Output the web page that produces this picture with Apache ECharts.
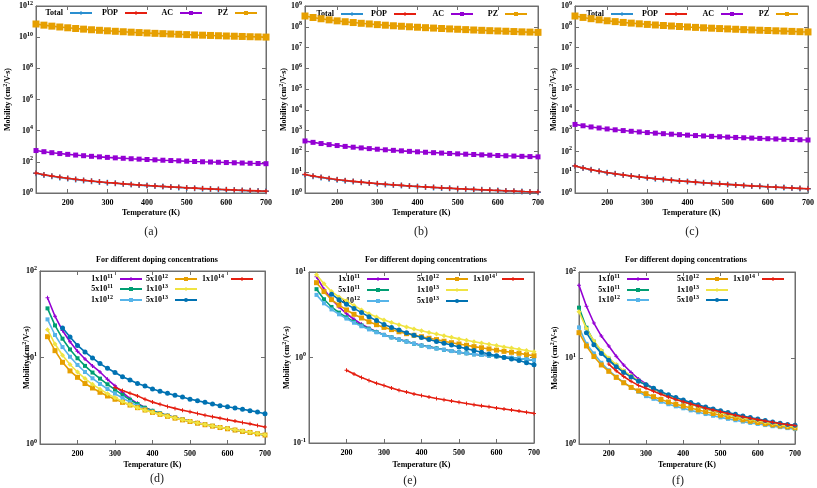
<!DOCTYPE html>
<html><head><meta charset="utf-8">
<script src="https://cdn.jsdelivr.net/npm/echarts@6/dist/echarts.min.js"></script>
<style>html,body{margin:0;padding:0;background:#fff}#c{width:817px;height:488px}</style>
</head><body><div id="c"></div>
<script>
// ---------- data ----------
const temps = [120,140,160,180,200,220,240,260,280,300,320,340,360,380,400,420,440,460,480,500,520,540,560,580,600,620,640,660,680,700];
const xTickLabels = [200,300,400,500,600,700];

// (a)
const a_total = [18.3,14.5,11.9,10.0,8.5,7.35,6.45,5.72,5.1,4.6,4.18,3.81,3.49,3.22,2.98,2.77,2.59,2.42,2.27,2.13,2.01,1.9,1.8,1.7,1.62,1.54,1.47,1.4,1.34,1.28];
const a_pop = [19,15.0,12.3,10.3,8.74,7.56,6.63,5.87,5.24,4.71,4.28,3.90,3.57,3.29,3.04,2.83,2.64,2.47,2.32,2.17,2.05,1.94,1.83,1.73,1.65,1.57,1.49,1.43,1.36,1.30];
const a_ac = [530,447,386,339,302,272,247,226,209,193,180,169,158,149,141,134,127,121,116,110,105,101,97.5,94,90,87,84,81,78.5,76];
const a_pz = [7.0e10,5.9e10,5.1e10,4.5e10,4.0e10,3.6e10,3.27e10,2.99e10,2.76e10,2.56e10,2.38e10,2.23e10,2.09e10,1.97e10,1.86e10,1.76e10,1.68e10,1.60e10,1.53e10,1.46e10,1.39e10,1.34e10,1.29e10,1.24e10,1.19e10,1.15e10,1.11e10,1.07e10,1.04e10,1.01e10];
// (b)
const b_total = [7.6,6.42,5.56,4.88,4.36,3.92,3.57,3.27,3.01,2.8,2.6,2.44,2.29,2.15,2.04,1.94,1.84,1.75,1.67,1.6,1.53,1.47,1.42,1.36,1.31,1.26,1.22,1.17,1.13,1.1];
const b_pop = [7.8,6.58,5.69,4.99,4.45,4.0,3.64,3.33,3.07,2.85,2.65,2.48,2.33,2.19,2.07,1.97,1.87,1.78,1.70,1.62,1.55,1.49,1.44,1.38,1.33,1.28,1.24,1.19,1.15,1.12];
const b_ac = [320,274,240,213,192,175,160,148,137,128,120,113,107,101,96,91.4,87.3,83.5,80,76.8,73.8,71.1,68.6,66.2,64,61.9,60,58.2,56.5,54.9];
const b_pz = [3.3e8,2.8e8,2.43e8,2.15e8,1.93e8,1.75e8,1.6e8,1.47e8,1.37e8,1.27e8,1.19e8,1.12e8,1.06e8,1.0e8,9.5e7,9.05e7,8.65e7,8.25e7,7.9e7,7.6e7,7.3e7,7.0e7,6.75e7,6.5e7,6.3e7,6.1e7,5.9e7,5.7e7,5.55e7,5.4e7];
// (c)
const c_total = [19.8,15.9,13.2,11.1,9.56,8.34,7.37,6.58,5.93,5.37,4.9,4.5,4.14,3.83,3.57,3.33,3.11,2.91,2.75,2.59,2.45,2.31,2.19,2.09,1.99,1.9,1.82,1.74,1.66,1.6];
const c_pop = [20,16.0,13.3,11.2,9.64,8.4,7.42,6.62,5.96,5.4,4.92,4.52,4.16,3.84,3.58,3.34,3.12,2.92,2.76,2.6,2.46,2.32,2.2,2.1,2.0,1.91,1.83,1.75,1.67,1.61];
const c_ac = [2000,1720,1510,1345,1210,1100,1010,934,868,810,760,716,677,642,610,582,556,532,510,490,472,455,439,424,410,398,386,374,364,355];
const c_pz = [3.3e8,2.82e8,2.45e8,2.17e8,1.95e8,1.77e8,1.62e8,1.5e8,1.39e8,1.3e8,1.22e8,1.15e8,1.09e8,1.03e8,9.8e7,9.35e7,8.95e7,8.55e7,8.2e7,7.9e7,7.6e7,7.3e7,7.05e7,6.8e7,6.6e7,6.4e7,6.2e7,6.0e7,5.8e7,5.65e7];

// (d)
const d_1e11 = [49,30,20.5,15.2,11.8,9.6,8.0,6.8,5.6,4.7,3.95,3.35,2.95,2.65,2.42,2.26,2.13,2.02,1.92,1.84,1.76,1.69,1.62,1.56,1.51,1.46,1.41,1.37,1.32,1.28];
const d_5e11 = [37,23.5,16.5,12.4,9.8,8.0,6.7,5.7,4.9,4.25,3.7,3.25,2.9,2.62,2.42,2.26,2.13,2.02,1.92,1.83,1.75,1.68,1.62,1.56,1.5,1.45,1.4,1.36,1.31,1.27];
const d_1e12 = [27.6,18.2,13.2,10.2,8.2,6.8,5.75,4.95,4.32,3.82,3.4,3.05,2.77,2.55,2.37,2.22,2.1,2.0,1.9,1.82,1.74,1.67,1.61,1.55,1.5,1.45,1.4,1.36,1.31,1.27];
const d_5e12 = [17.4,12.0,8.8,7.0,5.9,5.0,4.44,3.96,3.59,3.29,3.03,2.82,2.63,2.47,2.32,2.2,2.09,1.99,1.9,1.82,1.74,1.67,1.61,1.55,1.5,1.45,1.4,1.36,1.31,1.27];
const d_1e13 = [21,14.3,10.6,8.3,6.8,5.7,4.9,4.3,3.82,3.43,3.1,2.85,2.63,2.46,2.33,2.21,2.1,2.0,1.91,1.83,1.75,1.68,1.62,1.56,1.51,1.46,1.41,1.37,1.32,1.28];
const d_5e13 = [null,null,22,17.3,13.8,11.6,9.9,8.5,7.5,6.7,6.0,5.5,5.0,4.68,4.32,4.07,3.85,3.66,3.49,3.29,3.17,3.03,2.9,2.77,2.70,2.61,2.52,2.43,2.34,2.24];
const d_1e14 = [null,null,null,null,null,null,null,null,null,4.5,4.15,3.85,3.6,3.3,3.05,2.88,2.72,2.58,2.46,2.36,2.25,2.15,2.07,1.99,1.91,1.84,1.77,1.71,1.64,1.57];
// (e)
const e_1e11 = [8.8,6.3,4.8,3.9,3.25,2.8,2.45,2.2,2.0,1.85,1.73,1.63,1.54,1.46,1.39,1.33,1.28,1.23,1.19,1.15,1.12,1.09,1.07,1.05,1.03,1.01,0.99,0.97,0.95,0.93];
const e_5e11 = [6.3,4.8,3.9,3.35,2.95,2.62,2.37,2.17,1.99,1.84,1.72,1.62,1.54,1.45,1.38,1.33,1.28,1.23,1.19,1.15,1.12,1.09,1.07,1.05,1.03,1.01,0.99,0.97,0.95,0.93];
const e_1e12 = [5.4,4.3,3.65,3.2,2.85,2.55,2.32,2.13,1.97,1.83,1.72,1.62,1.53,1.45,1.38,1.32,1.27,1.23,1.19,1.15,1.12,1.09,1.07,1.05,1.03,1.01,0.99,0.97,0.95,0.93];
const e_5e12 = [7.5,5.9,4.75,4.1,3.6,3.2,2.9,2.62,2.42,2.25,2.12,2.0,1.9,1.82,1.75,1.68,1.62,1.55,1.49,1.44,1.39,1.34,1.3,1.26,1.22,1.18,1.15,1.12,1.08,1.05];
const e_1e13 = [9.3,7.3,5.9,5.1,4.6,4.05,3.6,3.25,2.97,2.75,2.57,2.42,2.28,2.16,2.06,1.96,1.88,1.8,1.72,1.65,1.59,1.53,1.48,1.43,1.38,1.33,1.29,1.25,1.21,1.17];
const e_5e13 = [null,null,5.5,4.75,4.2,3.75,3.35,3.0,2.7,2.44,2.25,2.1,1.95,1.82,1.71,1.62,1.54,1.47,1.4,1.33,1.27,1.21,1.15,1.1,1.05,1.0,0.96,0.92,0.87,0.82];
const e_1e14 = [null,null,null,null,0.71,0.64,0.585,0.54,0.5,0.47,0.44,0.415,0.395,0.375,0.36,0.345,0.332,0.32,0.31,0.30,0.29,0.28,0.272,0.265,0.257,0.25,0.243,0.236,0.229,0.222];
// (f)
const f_1e11 = [70,40,25.5,18,13.8,10.5,8.3,6.8,5.7,5.0,4.45,4.0,3.65,3.36,3.12,2.92,2.74,2.59,2.45,2.33,2.22,2.12,2.03,1.95,1.87,1.8,1.74,1.69,1.64,1.6];
const f_5e11 = [38.5,22.5,15.5,12.0,9.8,8.2,7.0,6.1,5.4,4.85,4.4,4.0,3.66,3.37,3.12,2.91,2.73,2.57,2.43,2.31,2.2,2.1,2.01,1.93,1.85,1.78,1.72,1.66,1.61,1.57];
const f_1e12 = [22.7,14.6,11.3,8.8,7.2,6.05,5.2,4.55,4.05,3.6,3.35,3.1,2.9,2.74,2.6,2.46,2.34,2.23,2.13,2.04,1.96,1.89,1.82,1.76,1.71,1.66,1.61,1.57,1.53,1.49];
const f_5e12 = [19.7,13.8,10.4,8.3,7.0,5.95,5.15,4.55,4.15,3.85,3.55,3.3,3.08,2.9,2.76,2.62,2.49,2.37,2.26,2.16,2.07,1.99,1.91,1.84,1.78,1.72,1.67,1.62,1.58,1.54];
const f_1e13 = [34.5,22,15.8,12.2,10.0,8.4,7.1,6.2,5.45,4.9,4.42,4.02,3.68,3.39,3.14,2.92,2.74,2.58,2.44,2.32,2.21,2.11,2.02,1.94,1.86,1.79,1.73,1.67,1.62,1.58];
const f_5e13 = [null,19.7,14.3,11.3,9.4,7.9,6.8,6.0,5.35,4.9,4.45,4.05,3.75,3.48,3.25,3.04,2.86,2.7,2.56,2.44,2.32,2.22,2.12,2.03,1.95,1.87,1.8,1.74,1.69,1.65];
const f_1e14 = [null,null,null,null,8.5,7.1,6.1,5.35,4.8,4.45,4.1,3.8,3.53,3.3,3.1,2.92,2.76,2.61,2.48,2.37,2.26,2.16,2.07,1.99,1.92,1.85,1.79,1.73,1.68,1.64];

const topNames = ['Total','POP','AC','PZ'];
const dopNames = ['1x10^11','5x10^11','1x10^12','5x10^12','1x10^13','5x10^13','1x10^14'];
const captions = ['(a)','(b)','(c)','(d)','(e)','(f)'];
const dopTitle = 'For different doping concentrations';
const xName = 'Temperature (K)';
const yName = 'Mobility (cm{sup|2}/V-s)';

// ---------- styling ----------
const PLUS = 'path://M3,0H5V3H8V5H5V8H3V5H0V3H3Z';
const STY = {
  'Total':{color:'#2a8fd0',symbol:PLUS,size:6},
  'POP':{color:'#e51e10',symbol:PLUS,size:5},
  'AC':{color:'#9400d3',symbol:'rect',size:5},
  'PZ':{color:'#e69f00',symbol:'rect',size:7},
  '1x10^11':{color:'#9400d3',symbol:PLUS,size:4},
  '5x10^11':{color:'#009e73',symbol:'rect',size:4},
  '1x10^12':{color:'#56b4e9',symbol:'rect',size:4},
  '5x10^12':{color:'#e69f00',symbol:'rect',size:5},
  '1x10^13':{color:'#f0e442',symbol:'diamond',size:5},
  '5x10^13':{color:'#0072b2',symbol:'circle',size:5},
  '1x10^14':{color:'#e51e10',symbol:PLUS,size:4}
};
const FONT = 'Liberation Serif';
const AX = '#6e6e6e';
const SUP = {sup:{fontSize:6,lineHeight:6,verticalAlign:'top',fontFamily:FONT,fontWeight:'bold',color:'#000'}};
const supFmt = s => s.replace(/\^(-?\d+)/, '{sup|$1}');
const logFmt = v => '10{sup|' + Math.round(Math.log10(v)) + '}';

const panels = [
  {grid:{left:36,top:5,width:230,height:188}, xmin:120, ymin:1, ymax:1e12,
   yticks:[1,1e2,1e4,1e6,1e8,1e10,1e12], yGap:22, xGap:16,
   names:topNames, data:[a_total,a_pop,a_ac,a_pz],
   leg:{rights:[93,148,203,258], rows:[13,13,13,13]}, cap:[151,232]},
  {grid:{left:305,top:5,width:233,height:188}, xmin:120, ymin:1, ymax:1e9,
   yticks:[1,1e1,1e2,1e3,1e4,1e5,1e6,1e7,1e8,1e9], yGap:15, xGap:16,
   names:topNames, data:[b_total,b_pop,b_ac,b_pz],
   leg:{rights:[364,417,474,528], rows:[14,14,14,14]}, cap:[421,232]},
  {grid:{left:575,top:5,width:234,height:188}, xmin:120, ymin:1, ymax:1e9,
   yticks:[1,1e1,1e2,1e3,1e4,1e5,1e6,1e7,1e8,1e9], yGap:15, xGap:16,
   names:topNames, data:[c_total,c_pop,c_ac,c_pz],
   leg:{rights:[634,688,744,799], rows:[14,14,14,14]}, cap:[692,232]},
  {grid:{left:40,top:271,width:225,height:173}, xmin:100, ymin:1, ymax:100,
   yticks:[1,10,100], yGap:7, xGap:17, title:[157,260],
   names:dopNames, data:[d_1e11,d_5e11,d_1e12,d_5e12,d_1e13,d_5e13,d_1e14],
   leg:{rights:[143,143,143,198,198,198,254], rows:[279,289,300,279,289,300,279]}, cap:[157,479]},
  {grid:{left:309,top:272,width:225,height:171}, xmin:100, ymin:0.1, ymax:10,
   yticks:[0.1,1,10], yGap:16, xGap:18, title:[426,260],
   names:dopNames, data:[e_1e11,e_5e11,e_1e12,e_5e12,e_1e13,e_5e13,e_1e14],
   leg:{rights:[390,390,390,469,469,469,525], rows:[279,290,301,279,290,301,279]}, cap:[410,481]},
  {grid:{left:579,top:272,width:216,height:172}, xmin:120, ymin:1, ymax:100,
   yticks:[1,10,100], yGap:18, xGap:17, title:[686,260],
   names:dopNames, data:[f_1e11,f_5e11,f_1e12,f_5e12,f_1e13,f_5e13,f_1e14],
   leg:{rights:[650,650,650,729,729,729,785], rows:[279,290,300,279,290,300,279]}, cap:[678,481]}
];

const grids=[], xAxes=[], yAxes=[], series=[], legends=[], graphics=[];
const tickLabelStyle = {fontFamily:FONT,fontWeight:'bold',fontSize:8,color:'#000',lineHeight:12,rich:SUP};

panels.forEach((p,i)=>{
  grids.push(Object.assign({show:true,borderColor:AX,borderWidth:1,backgroundColor:'transparent'},p.grid));
  const xBase = {type:'value',gridIndex:i,min:p.xmin,max:700,splitLine:{show:false},
    axisLine:{show:true,onZero:false,lineStyle:{color:AX,width:1}}};
  xAxes.push(Object.assign({},xBase,{position:'bottom',
    axisTick:{show:true,inside:true,length:4,lineStyle:{color:AX},customValues:xTickLabels},
    axisLabel:Object.assign({margin:4,customValues:xTickLabels},tickLabelStyle),
    name:xName,nameLocation:'middle',nameGap:p.xGap,nameMoveOverlap:false,
    nameTextStyle:{fontFamily:FONT,fontWeight:'bold',fontSize:8,color:'#000'}}));
  xAxes.push(Object.assign({},xBase,{position:'top',
    axisTick:{show:true,inside:true,length:4,lineStyle:{color:AX},customValues:xTickLabels},
    axisLabel:{show:false}}));
  const yBase = {type:'log',logBase:10,gridIndex:i,min:p.ymin,max:p.ymax,splitLine:{show:false},
    axisLine:{show:true,onZero:false,lineStyle:{color:AX,width:1}}};
  yAxes.push(Object.assign({},yBase,{position:'left',
    axisTick:{show:true,inside:true,length:4,lineStyle:{color:AX},customValues:p.yticks},
    axisLabel:Object.assign({margin:3,customValues:p.yticks,formatter:logFmt},tickLabelStyle),
    name:yName,nameLocation:'middle',nameGap:p.yGap,nameRotate:90,nameMoveOverlap:false,
    nameTextStyle:{fontFamily:FONT,fontWeight:'bold',fontSize:8,color:'#000',lineHeight:12,rich:SUP}}));
  yAxes.push(Object.assign({},yBase,{position:'right',
    axisTick:{show:true,inside:true,length:4,lineStyle:{color:AX},customValues:p.yticks},
    axisLabel:{show:false}}));

  p.names.forEach((nm,k)=>{
    const s = STY[nm];
    series.push({type:'line',name:nm,xAxisIndex:2*i,yAxisIndex:2*i,
      data: temps.map((t,j)=>[t,p.data[k][j]]).filter(d=>d[1]!=null),
      symbol:s.symbol,symbolSize:s.size,showSymbol:true,
      lineStyle:{color:s.color,width:1.6},itemStyle:{color:s.color},
      animation:false,z:2+k,silent:true});
    legends.push({data:[nm],right:817-p.leg.rights[k],top:p.leg.rows[k]-6,padding:0,
      align:'right',itemWidth:22,itemHeight:5,itemGap:0,selectedMode:false,
      formatter:supFmt,
      textStyle:{fontFamily:FONT,fontWeight:'bold',fontSize:8,color:'#000',lineHeight:12,padding:[0,2,0,0],rich:SUP}});
  });

  graphics.push({type:'text',x:p.cap[0],y:p.cap[1],style:{text:captions[i],fill:'#222',
    font:'12px "Liberation Serif"',textAlign:'center',textVerticalAlign:'middle'}});
  if(p.title){
    graphics.push({type:'text',x:p.title[0],y:p.title[1],style:{text:dopTitle,fill:'#000',
      font:'bold 8px "Liberation Serif"',textAlign:'center',textVerticalAlign:'middle'}});
  }
});

const chart = echarts.init(document.getElementById('c'),null,{renderer:'canvas'});
chart.setOption({animation:false,backgroundColor:'#fff',grid:grids,xAxis:xAxes,yAxis:yAxes,
  series:series,legend:legends,graphic:graphics});
</script></body></html>
